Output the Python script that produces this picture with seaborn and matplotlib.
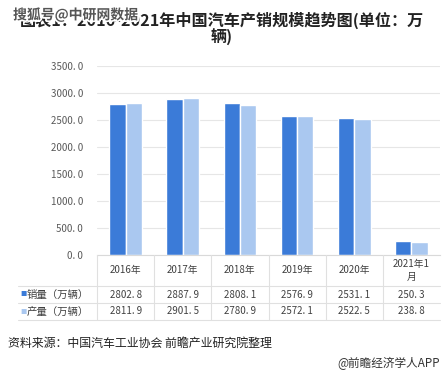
import matplotlib
matplotlib.use("Agg")
import matplotlib.pyplot as plt
import matplotlib.patheffects as pe
from matplotlib.lines import Line2D
from matplotlib.transforms import blended_transform_factory
import seaborn as sns
import pandas as pd

# ---- data ----
years = ["2016年", "2017年", "2018年", "2019年", "2020年", "2021年1\n月"]
sales = [2802.8, 2887.9, 2808.1, 2576.9, 2531.1, 250.3]
production = [2811.9, 2901.5, 2780.9, 2572.1, 2522.5, 238.8]
series_names = ["销量（万辆）", "产量（万辆）"]
yticks = [0, 500, 1000, 1500, 2000, 2500, 3000, 3500]
title = "图表1：2016-2021年中国汽车产销规模趋势图(单位：万\n辆)"
watermark = "搜狐号@中研网数据"
source = "资料来源：中国汽车工业协会 前瞻产业研究院整理"
credit = "@前瞻经济学人APP"

DARK = "#3b7bd8"
LIGHT = "#aac8f0"
TXT = "#404040"

sns.set_theme(style="white")
plt.rcParams['font.family'] = ['Noto Sans CJK SC', 'DejaVu Sans']

W, H = 443, 379
fig = plt.figure(figsize=(W / 100, H / 100), dpi=100)
fig.patch.set_facecolor("white")


def fx(x):
    return x / W


def fy(y):
    return 1 - y / H


ax = fig.add_axes([fx(97), fy(255), (440 - 97) / W, (255 - 66) / H])

df = pd.DataFrame({
    "year": years * 2,
    "value": sales + production,
    "series": [series_names[0]] * len(years) + [series_names[1]] * len(years),
})
sns.barplot(data=df, x="year", y="value", hue="series", palette=[DARK, LIGHT],
            width=0.57, saturation=1, ax=ax, legend=False)

ax.set_ylim(0, 3500)
ax.set_xlim(-0.5, len(years) - 0.5)
ax.set_yticks(yticks)
ax.set_yticklabels([f"{v:.1f}".replace(".", ". ") for v in yticks],
                   fontsize=7, color="#595959")
ax.tick_params(axis="y", length=0, pad=10)
ax.set_xticks([])
ax.set_xlabel("")
ax.set_ylabel("")
ax.yaxis.grid(True, color="#e6e6e6", linewidth=0.8)
ax.set_axisbelow(True)
for s in ["left", "right", "top"]:
    ax.spines[s].set_visible(False)
ax.spines["bottom"].set_color("#d9d9d9")
ax.spines["bottom"].set_linewidth(0.8)

# ---- data table ----
tr = blended_transform_factory(ax.transData, fig.transFigure)
for i, yr in enumerate(years):
    fig.text(i, fy(270.5), yr, transform=tr, ha="center", va="center",
             fontsize=7, color=TXT, linespacing=1.3)
    fig.text(i, fy(294.5), f"{sales[i]:.1f}".replace(".", ". "), transform=tr,
             ha="center", va="center", fontsize=7, color=TXT)
    fig.text(i, fy(311.5), f"{production[i]:.1f}".replace(".", ". "), transform=tr,
             ha="center", va="center", fontsize=7, color=TXT)

for yy, name, col in [(294.5, series_names[0], DARK), (311.5, series_names[1], LIGHT)]:
    fig.text(fx(20), fy(yy), "■", ha="left", va="center", fontsize=4.5, color=col)
    fig.text(fx(27), fy(yy), name, ha="left", va="center", fontsize=7.5, color=TXT)

lc = "#e0e0e0"
for yy in [286, 303, 320]:
    fig.add_artist(Line2D([fx(18), fx(440)], [fy(yy), fy(yy)], color=lc, lw=0.8))
for k in range(len(years)):
    x = k - 0.5
    fig.add_artist(Line2D([x, x], [fy(255), fy(320)], color=lc, lw=0.8, transform=tr))

# ---- titles / texts ----
fig.text(0.5, fy(29), title, ha="center", va="center", fontsize=11.6,
         fontweight="bold", color="#222222", linespacing=1.0)
fig.text(fx(13), fy(15), watermark, ha="left", va="center", fontsize=10,
         fontweight="bold", color="#555555",
         path_effects=[pe.withStroke(linewidth=2.5, foreground="white")])
fig.text(fx(8), fy(343), source, ha="left", va="center", fontsize=8.6, color="#222222")
fig.text(fx(440), fy(363), credit, ha="right", va="center", fontsize=8.4, color="#333333")

fig.savefig("out.png", dpi=100, facecolor="white")
